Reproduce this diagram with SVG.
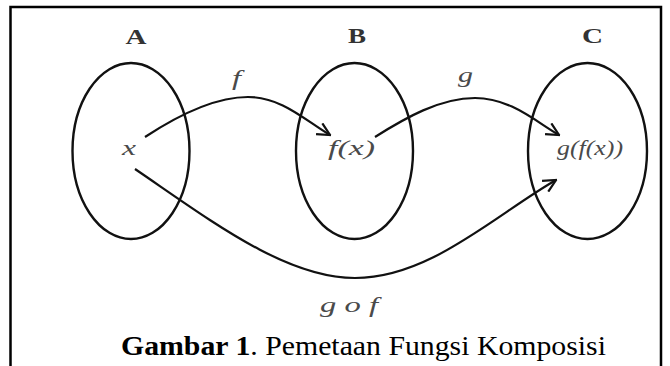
<svg xmlns="http://www.w3.org/2000/svg" width="670" height="366" viewBox="0 0 670 366">
<style>
.set{fill:none;stroke:#111;stroke-width:2.4}
.arr{fill:none;stroke:#111;stroke-width:2.2;marker-end:url(#head)}
.setlbl{font-weight:bold;font-size:21px;fill:#333;text-anchor:middle}
.var{font-style:italic;font-size:22px;fill:#4a4a4a}
.cap{font-size:27px;fill:#000}
</style>
<defs>
<marker id="head" viewBox="0 0 12 12" refX="11" refY="6" markerWidth="15" markerHeight="15" markerUnits="userSpaceOnUse" orient="auto">
<path d="M1,1 L11,6 L1,11" fill="none" stroke="#111" stroke-width="1.8" stroke-linejoin="miter"/>
</marker>
</defs>
<rect width="670" height="366" fill="#fff"/>
<g id="frame" fill="none" stroke="#000" stroke-width="2.5">
<path d="M10.5,366 V7 H661 V366"/>
</g>
<g font-family="Liberation Serif, serif">
<g id="A">
<ellipse class="set" cx="131" cy="151" rx="58.5" ry="88"/>
<text class="setlbl" x="136" y="44" textLength="21" lengthAdjust="spacingAndGlyphs">A</text>
<text class="var" x="122" y="155" textLength="14" lengthAdjust="spacingAndGlyphs">x</text>
</g>
<g id="B">
<ellipse class="set" cx="354.5" cy="151" rx="58.5" ry="88"/>
<text class="setlbl" x="357" y="43" textLength="18" lengthAdjust="spacingAndGlyphs">B</text>
<text class="var" x="328" y="155" textLength="47" lengthAdjust="spacingAndGlyphs">f(x)</text>
</g>
<g id="C">
<ellipse class="set" cx="587.5" cy="151" rx="59.5" ry="88"/>
<text class="setlbl" x="592.5" y="43" textLength="21" lengthAdjust="spacingAndGlyphs">C</text>
<text class="var" x="557" y="155" textLength="66" lengthAdjust="spacingAndGlyphs">g(f(x))</text>
</g>
<g id="connectors">
<path class="arr" d="M145,137 C180,114 215,97 248,97 C282,97 306,121 330,135"/>
<path class="arr" d="M375,137 C405,118 440,98 475,98 C510,98 535,121 559,135"/>
<path class="arr" d="M135,169 C210,220 285,278 355,278 C430,278 495,215 556,180"/>
<text class="var" x="232" y="85" textLength="9" lengthAdjust="spacingAndGlyphs">f</text>
<text class="var" x="458" y="82" textLength="15" lengthAdjust="spacingAndGlyphs">g</text>
<text class="var" x="320" y="312" font-size="18" textLength="58" lengthAdjust="spacingAndGlyphs">g o f</text>
</g>
<g id="caption">
<text class="cap" x="121" y="355" textLength="485" lengthAdjust="spacingAndGlyphs"><tspan font-weight="bold">Gambar 1</tspan>. Pemetaan Fungsi Komposisi</text>
</g>
</g>
</svg>
